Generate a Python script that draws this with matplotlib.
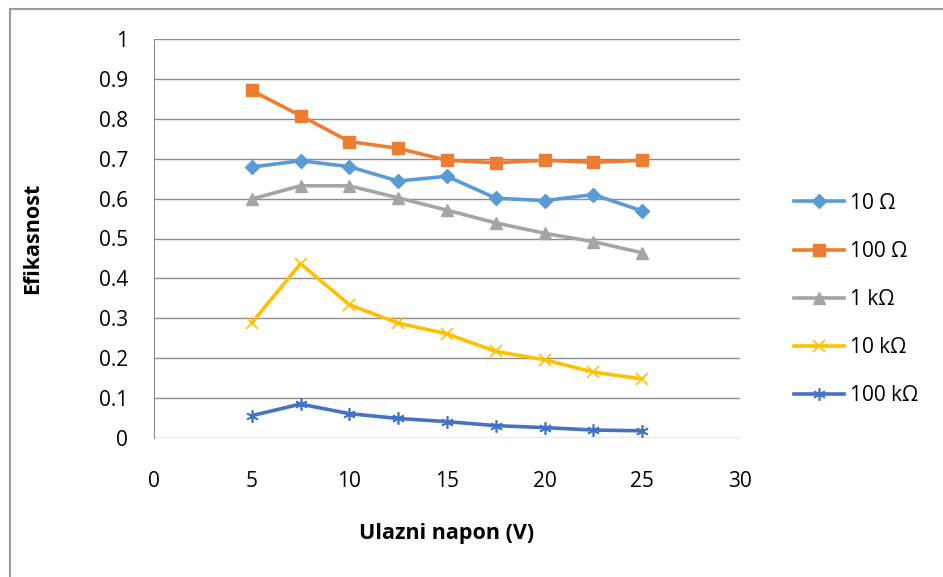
import matplotlib
matplotlib.use("Agg")
import matplotlib.pyplot as plt
from matplotlib.lines import Line2D

# data
napon = [5, 7.5, 10, 12.5, 15, 17.5, 20, 22.5, 25]
ef_10 = [0.679, 0.695, 0.680, 0.644, 0.656, 0.601, 0.595, 0.610, 0.569]
ef_100 = [0.871, 0.808, 0.743, 0.726, 0.696, 0.690, 0.696, 0.691, 0.696]
ef_1k = [0.599, 0.632, 0.632, 0.602, 0.571, 0.539, 0.513, 0.492, 0.464]
ef_10k = [0.288, 0.437, 0.334, 0.288, 0.261, 0.217, 0.196, 0.165, 0.148]
ef_100k = [0.056, 0.085, 0.061, 0.049, 0.041, 0.031, 0.026, 0.020, 0.018]
labels = ["10 Ω", "100 Ω", "1 kΩ", "10 kΩ", "100 kΩ"]

plt.rcParams["font.family"] = ["Open Sans", "DejaVu Sans"]

W, H = 943, 577
fig = plt.figure(figsize=(W / 100, H / 100), dpi=100)
ax = fig.add_axes([154 / W, 1 - 438 / H, 586 / W, 399 / H])

series = [
    (ef_10, "#5B9BD5", "D", 7),
    (ef_100, "#ED7D31", "s", 8),
    (ef_1k, "#A5A5A5", "^", 8),
    (ef_10k, "#FFC000", "x", 8),
    (ef_100k, "#4472C4", (6, 2, 0), 9),
]
handles = []
for (vals, col, mk, ms), lab in zip(series, labels):
    if mk == "x" or isinstance(mk, tuple):
        ax.plot(napon, vals, color=col, lw=2.6, marker=mk, ms=ms,
                mew=1.2, label=lab, solid_capstyle="round")
        handles.append(Line2D([], [], color=col, lw=2.6, marker=mk, ms=ms, mew=1.2))
    else:
        ax.plot(napon, vals, color=col, lw=2.6, marker=mk, ms=ms,
                mec=col, mfc=col, label=lab, solid_capstyle="round")
        handles.append(Line2D([], [], color=col, lw=2.6, marker=mk, ms=ms, mec=col))

ax.set_xlim(0, 30)
ax.set_ylim(0, 1)
ax.set_xticks(range(0, 31, 5))
ax.set_yticks([i / 10 for i in range(11)])
ax.set_yticklabels(["0", "0.1", "0.2", "0.3", "0.4", "0.5", "0.6", "0.7", "0.8", "0.9", "1"])
ax.grid(axis="y", color="#8c8c8c", lw=1.0)
ax.set_axisbelow(True)
for s in ("top", "right", "bottom"):
    ax.spines[s].set_visible(False)
ax.spines["left"].set_color("#8c8c8c")
ax.tick_params(axis="both", length=0, labelsize=15)
ax.tick_params(axis="y", pad=18.5)
ax.tick_params(axis="x", pad=24)

fig.text(33 / W, 1 - 238 / H, "Efikasnost", rotation=90, ha="center", va="center",
         fontsize=15.5, fontweight="bold")
fig.text(447 / W, 1 - 534 / H, "Ulazni napon (V)", ha="center", va="center",
         fontsize=15.5, fontweight="bold")

fig.legend(handles, labels, loc="upper left", bbox_to_anchor=(775 / W, 1 - 174 / H),
           frameon=False, fontsize=15, labelspacing=1.3, handlelength=2.4,
           handletextpad=0.3)

# chart area border
fig.add_artist(Line2D([10 / W, 10 / W], [0, 1 - 9 / H], color="#9a9a9a", lw=1.5,
                      transform=fig.transFigure))
fig.add_artist(Line2D([10 / W, 1], [1 - 9 / H, 1 - 9 / H], color="#9a9a9a", lw=1.5,
                      transform=fig.transFigure))

fig.savefig("out.png", dpi=100)
